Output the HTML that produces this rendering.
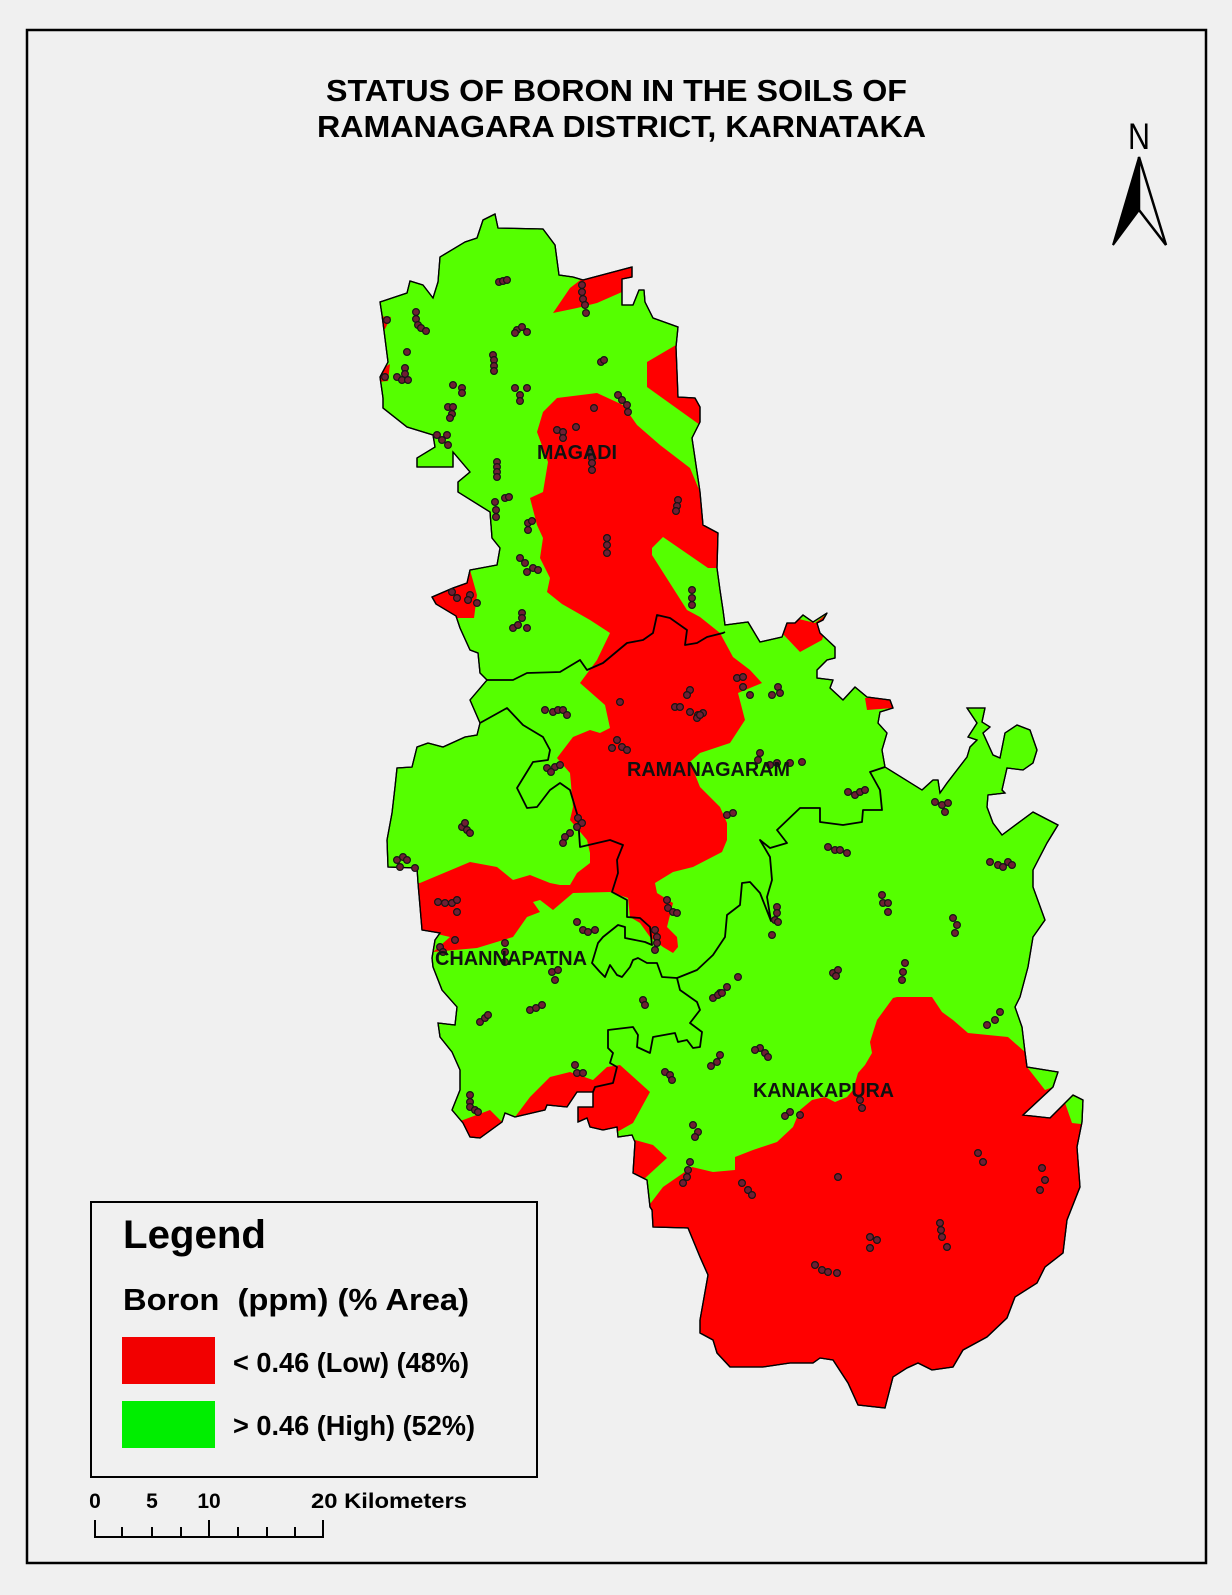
<!DOCTYPE html>
<html>
<head>
<meta charset="utf-8">
<style>
html,body{margin:0;padding:0;background:#f0f0f0;}
svg{display:block;}
text{font-family:"Liberation Sans",Arial,sans-serif;}
</style>
</head>
<body>
<svg width="1232" height="1595" viewBox="0 0 1232 1595" xmlns="http://www.w3.org/2000/svg">
<defs>
<clipPath id="dist">
<polygon id="outlinePts" points="483,220 495,214 498,228 543,229 555,245 559,275 573,277 583,280 632,267 632,277 622,279 622,305 633,305 639,290 644,290 645,302 653,318 678,327 676,347 678,397 695,398 700,407 700,422 692,438 700,492 703,525 718,533 717,568 720,590 723,610 725,625 748,622 760,642 782,637 787,623 795,623 803,615 813,622 827,613 823,620 817,623 820,633 835,647 835,658 827,660 817,670 817,678 833,680 830,688 843,700 855,687 867,697 890,700 893,708 880,712 878,723 887,733 882,750 885,767 922,790 933,780 938,780 940,793 947,783 967,757 970,747 977,740 968,737 977,723 967,708 985,708 982,722 990,727 983,733 993,755 1000,758 1005,733 1017,725 1030,730 1037,750 1033,763 1023,770 1007,768 1002,790 1005,793 988,795 987,807 993,823 1002,835 1033,812 1058,825 1047,843 1033,870 1033,887 1045,920 1033,937 1028,967 1020,997 1015,1007 1022,1027 1025,1052 1027,1067 1058,1072 1053,1087 1023,1115 1050,1118 1073,1095 1083,1100 1082,1122 1077,1147 1080,1187 1067,1220 1063,1253 1045,1267 1037,1283 1015,1297 1007,1318 987,1337 963,1350 953,1367 932,1370 918,1363 907,1368 893,1377 885,1408 858,1405 848,1383 833,1360 820,1358 813,1363 790,1363 763,1367 730,1367 717,1353 713,1340 700,1333 700,1320 708,1275 700,1257 688,1228 653,1227 652,1210 650,1207 647,1180 633,1173 635,1142 632,1135 618,1137 617,1127 603,1130 590,1127 587,1118 578,1122 578,1107 593,1107 593,1092 577,1092 567,1107 547,1105 545,1110 515,1117 505,1113 502,1122 480,1138 470,1137 463,1123 452,1110 460,1090 460,1070 452,1052 440,1037 438,1023 455,1025 457,1007 442,990 433,967 432,958 435,940 440,933 422,930 418,883 417,868 388,867 387,840 392,813 395,787 397,768 412,767 417,747 428,743 443,747 465,737 477,735 480,723 470,700 487,680 480,673 478,653 470,650 460,628 456,616 436,604 432,597 453,588 467,583 470,570 497,565 500,548 492,538 490,512 458,492 458,482 470,472 453,452 453,467 417,467 417,458 435,447 433,435 407,427 383,408 383,398 380,377 388,362 382,315 380,302 407,293 410,281 423,285 433,298 438,282 440,257 465,242 477,238"/>
</clipPath>
</defs>

<!-- frame -->
<rect x="27" y="30" width="1179" height="1533" fill="#f0f0f0" stroke="#000" stroke-width="2.5"/>

<!-- title -->
<text x="326" y="101" font-size="31" font-weight="bold" textLength="581" lengthAdjust="spacingAndGlyphs" fill="#000">STATUS OF BORON IN THE SOILS OF</text>
<text x="317" y="137" font-size="31" font-weight="bold" textLength="609" lengthAdjust="spacingAndGlyphs" fill="#000">RAMANAGARA DISTRICT, KARNATAKA</text>

<!-- north arrow -->
<text x="1128" y="149" font-size="37" textLength="22" lengthAdjust="spacingAndGlyphs" fill="#000">N</text>
<polygon points="1139,157 1113,245 1139,210" fill="#000" stroke="#000" stroke-width="2" stroke-linejoin="miter"/>
<polygon points="1139,157 1166,245 1139,210" fill="#f0f0f0" stroke="#000" stroke-width="2.5" stroke-linejoin="miter"/>

<!-- map -->
<polygon points="483,220 495,214 498,228 543,229 555,245 559,275 573,277 583,280 632,267 632,277 622,279 622,305 633,305 639,290 644,290 645,302 653,318 678,327 676,347 678,397 695,398 700,407 700,422 692,438 700,492 703,525 718,533 717,568 720,590 723,610 725,625 748,622 760,642 782,637 787,623 795,623 803,615 813,622 827,613 823,620 817,623 820,633 835,647 835,658 827,660 817,670 817,678 833,680 830,688 843,700 855,687 867,697 890,700 893,708 880,712 878,723 887,733 882,750 885,767 922,790 933,780 938,780 940,793 947,783 967,757 970,747 977,740 968,737 977,723 967,708 985,708 982,722 990,727 983,733 993,755 1000,758 1005,733 1017,725 1030,730 1037,750 1033,763 1023,770 1007,768 1002,790 1005,793 988,795 987,807 993,823 1002,835 1033,812 1058,825 1047,843 1033,870 1033,887 1045,920 1033,937 1028,967 1020,997 1015,1007 1022,1027 1025,1052 1027,1067 1058,1072 1053,1087 1023,1115 1050,1118 1073,1095 1083,1100 1082,1122 1077,1147 1080,1187 1067,1220 1063,1253 1045,1267 1037,1283 1015,1297 1007,1318 987,1337 963,1350 953,1367 932,1370 918,1363 907,1368 893,1377 885,1408 858,1405 848,1383 833,1360 820,1358 813,1363 790,1363 763,1367 730,1367 717,1353 713,1340 700,1333 700,1320 708,1275 700,1257 688,1228 653,1227 652,1210 650,1207 647,1180 633,1173 635,1142 632,1135 618,1137 617,1127 603,1130 590,1127 587,1118 578,1122 578,1107 593,1107 593,1092 577,1092 567,1107 547,1105 545,1110 515,1117 505,1113 502,1122 480,1138 470,1137 463,1123 452,1110 460,1090 460,1070 452,1052 440,1037 438,1023 455,1025 457,1007 442,990 433,967 432,958 435,940 440,933 422,930 418,883 417,868 388,867 387,840 392,813 395,787 397,768 412,767 417,747 428,743 443,747 465,737 477,735 480,723 470,700 487,680 480,673 478,653 470,650 460,628 456,616 436,604 432,597 453,588 467,583 470,570 497,565 500,548 492,538 490,512 458,492 458,482 470,472 453,452 453,467 417,467 417,458 435,447 433,435 407,427 383,408 383,398 380,377 388,362 382,315 380,302 407,293 410,281 423,285 433,298 438,282 440,257 465,242 477,238" fill="#55ff00"/>

<g clip-path="url(#dist)" fill="#ff0000">
<!-- north red patch -->
<polygon points="553,313 570,288 583,278 632,262 640,262 640,280 622,281 622,292 597,303 577,308"/>
<!-- right strip -->
<polygon points="647,362 676,345 712,340 712,432 700,425 647,387"/>
<!-- central big red -->
<polygon points="537,432 543,412 557,398 597,393 623,405 637,425 660,445 690,468 700,492 750,492 750,570 717,568 708,568 663,537 652,548 652,555 687,610 700,617 720,633 733,657 750,670 762,683 738,693 745,720 730,743 700,753 690,762 700,787 720,807 727,823 727,840 722,852 693,867 673,872 655,883 657,893 673,903 667,927 677,937 678,947 673,953 663,947 650,937 640,923 630,917 628,898 610,892 573,893 553,910 540,900 533,902 540,912 527,917 513,937 477,948 433,952 450,937 420,930 405,930 405,883 420,883 470,862 497,867 513,880 530,875 550,883 560,885 570,885 577,873 590,863 590,853 587,840 570,820 573,807 570,773 557,758 573,737 590,730 600,733 610,728 605,705 580,683 597,660 610,633 590,620 562,604 547,592 550,578 540,558 543,538 537,525 530,498 543,492 548,462"/>
<!-- left lobe red (Magadi SW) -->
<polygon points="425,597 453,588 467,583 470,570 477,595 474,618 455,618 430,605"/>
<!-- tiny left-edge bits -->
<polygon points="376,316 391,317 385,329 376,330"/>
<polygon points="376,372 390,364 388,381 376,382"/>
<!-- south edge red bits -->
<polygon points="455,1123 490,1110 502,1122 502,1145 455,1145"/>
<polygon points="515,1117 530,1097 550,1077 570,1072 593,1080 607,1067 620,1065 650,1092 633,1123 617,1132 600,1140 512,1140"/>
<polygon points="628,1138 653,1145 667,1158 643,1180 628,1180"/>
<!-- SE big red -->
<polygon points="640,1208 647,1208 663,1187 692,1167 713,1172 735,1170 735,1157 753,1150 777,1142 793,1127 800,1110 812,1100 825,1097 835,1102 847,1097 853,1090 858,1073 865,1065 872,1053 870,1042 877,1020 893,998 897,997 932,997 942,1012 953,1020 968,1033 1008,1037 1025,1052 1027,1067 1058,1072 1100,1060 1100,1420 640,1420"/>
<!-- top small red patches -->
<polygon points="782,625 795,618 815,623 832,610 822,640 800,652 782,633"/>
<polygon points="865,698 888,698 893,708 867,710"/>
</g>
<!-- small green bits inside SE red -->
<g clip-path="url(#dist)" fill="#55ff00">
<polygon points="1063,1097 1090,1095 1090,1125 1072,1123"/>
<polygon points="1025,1052 1058,1072 1053,1087 1045,1090 1027,1067"/>
</g>

<!-- district outline -->
<use href="#outlinePts" fill="none" stroke="#000" stroke-width="1.3"/>
<polygon points="483,220 495,214 498,228 543,229 555,245 559,275 573,277 583,280 632,267 632,277 622,279 622,305 633,305 639,290 644,290 645,302 653,318 678,327 676,347 678,397 695,398 700,407 700,422 692,438 700,492 703,525 718,533 717,568 720,590 723,610 725,625 748,622 760,642 782,637 787,623 795,623 803,615 813,622 827,613 823,620 817,623 820,633 835,647 835,658 827,660 817,670 817,678 833,680 830,688 843,700 855,687 867,697 890,700 893,708 880,712 878,723 887,733 882,750 885,767 922,790 933,780 938,780 940,793 947,783 967,757 970,747 977,740 968,737 977,723 967,708 985,708 982,722 990,727 983,733 993,755 1000,758 1005,733 1017,725 1030,730 1037,750 1033,763 1023,770 1007,768 1002,790 1005,793 988,795 987,807 993,823 1002,835 1033,812 1058,825 1047,843 1033,870 1033,887 1045,920 1033,937 1028,967 1020,997 1015,1007 1022,1027 1025,1052 1027,1067 1058,1072 1053,1087 1023,1115 1050,1118 1073,1095 1083,1100 1082,1122 1077,1147 1080,1187 1067,1220 1063,1253 1045,1267 1037,1283 1015,1297 1007,1318 987,1337 963,1350 953,1367 932,1370 918,1363 907,1368 893,1377 885,1408 858,1405 848,1383 833,1360 820,1358 813,1363 790,1363 763,1367 730,1367 717,1353 713,1340 700,1333 700,1320 708,1275 700,1257 688,1228 653,1227 652,1210 650,1207 647,1180 633,1173 635,1142 632,1135 618,1137 617,1127 603,1130 590,1127 587,1118 578,1122 578,1107 593,1107 593,1092 577,1092 567,1107 547,1105 545,1110 515,1117 505,1113 502,1122 480,1138 470,1137 463,1123 452,1110 460,1090 460,1070 452,1052 440,1037 438,1023 455,1025 457,1007 442,990 433,967 432,958 435,940 440,933 422,930 418,883 417,868 388,867 387,840 392,813 395,787 397,768 412,767 417,747 428,743 443,747 465,737 477,735 480,723 470,700 487,680 480,673 478,653 470,650 460,628 456,616 436,604 432,597 453,588 467,583 470,570 497,565 500,548 492,538 490,512 458,492 458,482 470,472 453,452 453,467 417,467 417,458 435,447 433,435 407,427 383,408 383,398 380,377 388,362 382,315 380,302 407,293 410,281 423,285 433,298 438,282 440,257 465,242 477,238" fill="none" stroke="#000" stroke-width="1.3" stroke-linejoin="round"/>

<!-- internal taluk boundaries -->
<g fill="none" stroke="#000" stroke-width="1.8" stroke-linejoin="round">
<polyline points="487,680 513,680 527,673 560,672 580,660 587,670 603,663 627,643 643,640 653,633 657,615 670,618 687,630 685,645 697,643 707,637 723,633 725,632"/>
<polyline points="480,723 507,708 523,725 543,737 550,750 548,760 533,762 517,788 527,808 537,807 550,790 560,783 570,790 578,817 580,847 610,840 623,845 617,860 618,873 612,892 627,900 627,917 640,918 650,927 652,945 645,942 625,938 625,927 618,925 603,937 598,943 592,963 600,972 605,977 610,965 617,975 622,977 630,967 633,960 638,958 647,963 657,963 662,977 677,978"/>
<polyline points="677,978 680,990 697,1002 700,1010 690,1023 702,1032 700,1047 693,1048 687,1040 678,1042 675,1033 653,1037 650,1053 637,1047 638,1035 633,1027 608,1030 608,1048 613,1053 610,1063 617,1067 613,1083 595,1087 593,1092"/>
<polyline points="885,767 870,772 880,790 882,810 863,810 862,822 843,825 820,822 820,808 800,808 777,830 787,843 770,848 760,840 770,857 772,880 767,897 771,921 760,893 750,882 742,883 740,905 727,915 725,937 713,955 697,970 677,978"/>
</g>

<!-- sample points -->
<g fill="#6e1f33" stroke="#151515" stroke-width="1.2">
<circle cx="499" cy="282" r="3.4"/><circle cx="503" cy="281" r="3.4"/><circle cx="507" cy="280" r="3.4"/>
<circle cx="582" cy="285" r="3.4"/><circle cx="582" cy="292" r="3.4"/><circle cx="583" cy="299" r="3.4"/><circle cx="585" cy="305" r="3.4"/><circle cx="586" cy="313" r="3.4"/>
<circle cx="416" cy="312" r="3.4"/><circle cx="416" cy="319" r="3.4"/><circle cx="418" cy="325" r="3.4"/><circle cx="421" cy="328" r="3.4"/><circle cx="426" cy="331" r="3.4"/>
<circle cx="387" cy="320" r="3.4"/>
<circle cx="517" cy="330" r="3.4"/><circle cx="522" cy="327" r="3.4"/><circle cx="527" cy="332" r="3.4"/><circle cx="515" cy="333" r="3.4"/>
<circle cx="493" cy="355" r="3.4"/><circle cx="494" cy="360" r="3.4"/><circle cx="494" cy="366" r="3.4"/><circle cx="494" cy="371" r="3.4"/>
<circle cx="601" cy="362" r="3.4"/><circle cx="604" cy="360" r="3.4"/>
<circle cx="407" cy="352" r="3.4"/>
<circle cx="405" cy="368" r="3.4"/><circle cx="405" cy="374" r="3.4"/><circle cx="397" cy="377" r="3.4"/><circle cx="402" cy="380" r="3.4"/><circle cx="408" cy="380" r="3.4"/>
<circle cx="385" cy="377" r="3.4"/>
<circle cx="453" cy="385" r="3.4"/><circle cx="462" cy="388" r="3.4"/><circle cx="462" cy="393" r="3.4"/>
<circle cx="515" cy="388" r="3.4"/><circle cx="527" cy="388" r="3.4"/><circle cx="520" cy="395" r="3.4"/><circle cx="520" cy="401" r="3.4"/>
<circle cx="448" cy="407" r="3.4"/><circle cx="453" cy="407" r="3.4"/><circle cx="452" cy="414" r="3.4"/><circle cx="450" cy="418" r="3.4"/>
<circle cx="618" cy="395" r="3.4"/><circle cx="622" cy="400" r="3.4"/><circle cx="627" cy="405" r="3.4"/><circle cx="628" cy="412" r="3.4"/>
<circle cx="594" cy="408" r="3.4"/>
<circle cx="557" cy="430" r="3.4"/><circle cx="563" cy="432" r="3.4"/><circle cx="563" cy="438" r="3.4"/><circle cx="576" cy="427" r="3.4"/>
<circle cx="437" cy="435" r="3.4"/><circle cx="447" cy="435" r="3.4"/><circle cx="442" cy="440" r="3.4"/><circle cx="448" cy="445" r="3.4"/>
<circle cx="590" cy="453" r="3.4"/><circle cx="592" cy="458" r="3.4"/><circle cx="592" cy="463" r="3.4"/><circle cx="592" cy="470" r="3.4"/>
<circle cx="497" cy="462" r="3.4"/><circle cx="497" cy="467" r="3.4"/><circle cx="497" cy="472" r="3.4"/><circle cx="497" cy="477" r="3.4"/>
<circle cx="495" cy="502" r="3.4"/><circle cx="505" cy="498" r="3.4"/><circle cx="509" cy="497" r="3.4"/><circle cx="496" cy="510" r="3.4"/><circle cx="496" cy="517" r="3.4"/>
<circle cx="678" cy="500" r="3.4"/><circle cx="677" cy="506" r="3.4"/><circle cx="676" cy="511" r="3.4"/>
<circle cx="528" cy="523" r="3.4"/><circle cx="532" cy="521" r="3.4"/><circle cx="528" cy="530" r="3.4"/>
<circle cx="607" cy="538" r="3.4"/><circle cx="607" cy="545" r="3.4"/><circle cx="607" cy="553" r="3.4"/>
<circle cx="520" cy="558" r="3.4"/><circle cx="525" cy="563" r="3.4"/><circle cx="527" cy="572" r="3.4"/><circle cx="533" cy="568" r="3.4"/><circle cx="538" cy="570" r="3.4"/>
<circle cx="692" cy="590" r="3.4"/><circle cx="692" cy="598" r="3.4"/><circle cx="692" cy="605" r="3.4"/>
<circle cx="452" cy="592" r="3.4"/><circle cx="457" cy="598" r="3.4"/><circle cx="470" cy="595" r="3.4"/><circle cx="468" cy="600" r="3.4"/><circle cx="477" cy="603" r="3.4"/>
<circle cx="522" cy="613" r="3.4"/><circle cx="522" cy="618" r="3.4"/><circle cx="513" cy="628" r="3.4"/><circle cx="518" cy="625" r="3.4"/><circle cx="527" cy="628" r="3.4"/>
<circle cx="545" cy="710" r="3.4"/><circle cx="553" cy="712" r="3.4"/><circle cx="558" cy="710" r="3.4"/><circle cx="563" cy="710" r="3.4"/><circle cx="567" cy="715" r="3.4"/>
<circle cx="620" cy="702" r="3.4"/>
<circle cx="690" cy="690" r="3.4"/><circle cx="687" cy="695" r="3.4"/><circle cx="675" cy="707" r="3.4"/><circle cx="680" cy="707" r="3.4"/><circle cx="690" cy="712" r="3.4"/><circle cx="698" cy="715" r="3.4"/><circle cx="703" cy="713" r="3.4"/><circle cx="697" cy="718" r="3.4"/>
<circle cx="617" cy="740" r="3.4"/><circle cx="612" cy="748" r="3.4"/><circle cx="622" cy="747" r="3.4"/><circle cx="627" cy="750" r="3.4"/>
<circle cx="547" cy="768" r="3.4"/><circle cx="555" cy="767" r="3.4"/><circle cx="560" cy="765" r="3.4"/><circle cx="551" cy="772" r="3.4"/>
<circle cx="578" cy="818" r="3.4"/><circle cx="582" cy="823" r="3.4"/><circle cx="577" cy="827" r="3.4"/><circle cx="570" cy="833" r="3.4"/><circle cx="565" cy="837" r="3.4"/><circle cx="563" cy="843" r="3.4"/>
<circle cx="462" cy="827" r="3.4"/><circle cx="467" cy="830" r="3.4"/><circle cx="470" cy="833" r="3.4"/><circle cx="465" cy="823" r="3.4"/>
<circle cx="397" cy="860" r="3.4"/><circle cx="403" cy="857" r="3.4"/><circle cx="407" cy="860" r="3.4"/><circle cx="400" cy="867" r="3.4"/><circle cx="415" cy="868" r="3.4"/>
<circle cx="438" cy="902" r="3.4"/><circle cx="445" cy="903" r="3.4"/><circle cx="452" cy="903" r="3.4"/><circle cx="457" cy="900" r="3.4"/><circle cx="457" cy="912" r="3.4"/>
<circle cx="455" cy="940" r="3.4"/>
<circle cx="440" cy="947" r="3.4"/><circle cx="443" cy="952" r="3.4"/>
<circle cx="505" cy="943" r="3.4"/><circle cx="505" cy="952" r="3.4"/><circle cx="505" cy="962" r="3.4"/>
<circle cx="577" cy="922" r="3.4"/><circle cx="583" cy="930" r="3.4"/><circle cx="588" cy="932" r="3.4"/><circle cx="595" cy="930" r="3.4"/>
<circle cx="667" cy="900" r="3.4"/><circle cx="668" cy="908" r="3.4"/><circle cx="673" cy="912" r="3.4"/><circle cx="677" cy="913" r="3.4"/>
<circle cx="655" cy="930" r="3.4"/><circle cx="657" cy="937" r="3.4"/><circle cx="657" cy="943" r="3.4"/><circle cx="655" cy="950" r="3.4"/>
<circle cx="552" cy="972" r="3.4"/><circle cx="558" cy="970" r="3.4"/><circle cx="555" cy="980" r="3.4"/>
<circle cx="727" cy="815" r="3.4"/><circle cx="733" cy="813" r="3.4"/>
<circle cx="737" cy="678" r="3.4"/><circle cx="743" cy="677" r="3.4"/><circle cx="743" cy="687" r="3.4"/><circle cx="750" cy="695" r="3.4"/>
<circle cx="772" cy="695" r="3.4"/><circle cx="778" cy="687" r="3.4"/><circle cx="780" cy="693" r="3.4"/>
<circle cx="700" cy="715" r="3.4"/>
<circle cx="760" cy="753" r="3.4"/><circle cx="758" cy="760" r="3.4"/><circle cx="770" cy="765" r="3.4"/><circle cx="777" cy="763" r="3.4"/><circle cx="790" cy="763" r="3.4"/><circle cx="802" cy="762" r="3.4"/>
<circle cx="848" cy="792" r="3.4"/><circle cx="855" cy="795" r="3.4"/><circle cx="860" cy="792" r="3.4"/><circle cx="865" cy="790" r="3.4"/>
<circle cx="935" cy="802" r="3.4"/><circle cx="942" cy="805" r="3.4"/><circle cx="948" cy="803" r="3.4"/><circle cx="945" cy="812" r="3.4"/>
<circle cx="828" cy="847" r="3.4"/><circle cx="835" cy="850" r="3.4"/><circle cx="840" cy="850" r="3.4"/><circle cx="847" cy="853" r="3.4"/>
<circle cx="990" cy="862" r="3.4"/><circle cx="998" cy="865" r="3.4"/><circle cx="1003" cy="867" r="3.4"/><circle cx="1008" cy="862" r="3.4"/><circle cx="1012" cy="865" r="3.4"/>
<circle cx="882" cy="895" r="3.4"/><circle cx="883" cy="903" r="3.4"/><circle cx="888" cy="903" r="3.4"/><circle cx="888" cy="912" r="3.4"/>
<circle cx="777" cy="907" r="3.4"/><circle cx="777" cy="913" r="3.4"/><circle cx="775" cy="920" r="3.4"/><circle cx="778" cy="922" r="3.4"/><circle cx="772" cy="935" r="3.4"/>
<circle cx="953" cy="918" r="3.4"/><circle cx="957" cy="925" r="3.4"/><circle cx="955" cy="933" r="3.4"/>
<circle cx="833" cy="973" r="3.4"/><circle cx="838" cy="970" r="3.4"/><circle cx="836" cy="976" r="3.4"/>
<circle cx="905" cy="963" r="3.4"/><circle cx="903" cy="972" r="3.4"/><circle cx="902" cy="980" r="3.4"/>
<circle cx="738" cy="977" r="3.4"/>
<circle cx="727" cy="987" r="3.4"/><circle cx="720" cy="993" r="3.4"/><circle cx="713" cy="998" r="3.4"/>
<circle cx="1000" cy="1012" r="3.4"/><circle cx="995" cy="1020" r="3.4"/><circle cx="987" cy="1025" r="3.4"/>
<circle cx="480" cy="1022" r="3.4"/><circle cx="485" cy="1018" r="3.4"/><circle cx="488" cy="1015" r="3.4"/>
<circle cx="530" cy="1010" r="3.4"/><circle cx="536" cy="1008" r="3.4"/><circle cx="542" cy="1005" r="3.4"/>
<circle cx="643" cy="1000" r="3.4"/><circle cx="645" cy="1005" r="3.4"/>
<circle cx="718" cy="995" r="3.4"/><circle cx="722" cy="993" r="3.4"/>
<circle cx="575" cy="1065" r="3.4"/><circle cx="577" cy="1073" r="3.4"/><circle cx="583" cy="1073" r="3.4"/>
<circle cx="665" cy="1072" r="3.4"/><circle cx="670" cy="1075" r="3.4"/><circle cx="672" cy="1080" r="3.4"/>
<circle cx="720" cy="1055" r="3.4"/><circle cx="717" cy="1062" r="3.4"/><circle cx="711" cy="1066" r="3.4"/>
<circle cx="470" cy="1095" r="3.4"/><circle cx="470" cy="1102" r="3.4"/><circle cx="470" cy="1107" r="3.4"/><circle cx="475" cy="1110" r="3.4"/><circle cx="478" cy="1112" r="3.4"/>
<circle cx="693" cy="1125" r="3.4"/><circle cx="698" cy="1132" r="3.4"/><circle cx="695" cy="1137" r="3.4"/>
<circle cx="690" cy="1162" r="3.4"/><circle cx="688" cy="1170" r="3.4"/><circle cx="687" cy="1177" r="3.4"/><circle cx="683" cy="1183" r="3.4"/>
<circle cx="742" cy="1183" r="3.4"/><circle cx="748" cy="1190" r="3.4"/><circle cx="752" cy="1195" r="3.4"/>
<circle cx="760" cy="1048" r="3.4"/><circle cx="765" cy="1053" r="3.4"/><circle cx="768" cy="1057" r="3.4"/><circle cx="755" cy="1050" r="3.4"/>
<circle cx="860" cy="1100" r="3.4"/><circle cx="862" cy="1108" r="3.4"/>
<circle cx="790" cy="1112" r="3.4"/><circle cx="800" cy="1115" r="3.4"/><circle cx="785" cy="1116" r="3.4"/>
<circle cx="838" cy="1177" r="3.4"/>
<circle cx="978" cy="1153" r="3.4"/><circle cx="983" cy="1162" r="3.4"/>
<circle cx="1042" cy="1168" r="3.4"/><circle cx="1045" cy="1180" r="3.4"/><circle cx="1040" cy="1190" r="3.4"/>
<circle cx="940" cy="1223" r="3.4"/><circle cx="941" cy="1230" r="3.4"/><circle cx="942" cy="1237" r="3.4"/><circle cx="947" cy="1247" r="3.4"/>
<circle cx="870" cy="1237" r="3.4"/><circle cx="877" cy="1240" r="3.4"/><circle cx="870" cy="1248" r="3.4"/>
<circle cx="815" cy="1265" r="3.4"/><circle cx="822" cy="1270" r="3.4"/><circle cx="828" cy="1272" r="3.4"/><circle cx="837" cy="1273" r="3.4"/>
</g>

<!-- taluk labels -->
<g font-weight="bold" font-size="20" fill="#111">
<text x="537" y="459" textLength="80" lengthAdjust="spacingAndGlyphs">MAGADI</text>
<text x="627" y="776" textLength="163" lengthAdjust="spacingAndGlyphs">RAMANAGARAM</text>
<text x="435" y="965" textLength="152" lengthAdjust="spacingAndGlyphs">CHANNAPATNA</text>
<text x="753" y="1097" textLength="141" lengthAdjust="spacingAndGlyphs">KANAKAPURA</text>
</g>

<!-- legend -->
<rect x="91" y="1202" width="446" height="275" fill="none" stroke="#000" stroke-width="2"/>
<text x="123" y="1248" font-size="40" font-weight="bold" textLength="143" lengthAdjust="spacingAndGlyphs" fill="#000">Legend</text>
<text x="123" y="1310" font-size="31" font-weight="bold" textLength="346" lengthAdjust="spacingAndGlyphs" fill="#000" xml:space="preserve">Boron  (ppm) (% Area)</text>
<rect x="122" y="1337" width="93" height="47" fill="#f20000"/>
<rect x="122" y="1401" width="93" height="47" fill="#00ee00"/>
<text x="233" y="1372" font-size="27.5" font-weight="bold" textLength="236" lengthAdjust="spacingAndGlyphs" fill="#000">&lt; 0.46 (Low) (48%)</text>
<text x="233" y="1435" font-size="27.5" font-weight="bold" textLength="242" lengthAdjust="spacingAndGlyphs" fill="#000">&gt; 0.46 (High) (52%)</text>

<!-- scale bar -->
<g font-size="21" font-weight="bold" fill="#000">
<text x="95" y="1508" text-anchor="middle">0</text>
<text x="152" y="1508" text-anchor="middle">5</text>
<text x="209" y="1508" text-anchor="middle">10</text>
<text x="311" y="1508" textLength="156" lengthAdjust="spacingAndGlyphs">20 Kilometers</text>
</g>
<g stroke="#000" stroke-width="2" fill="none">
<line x1="94" y1="1537" x2="324" y2="1537"/>
<line x1="95" y1="1520" x2="95" y2="1538"/>
<line x1="209" y1="1520" x2="209" y2="1538"/>
<line x1="323" y1="1520" x2="323" y2="1538"/>
<line x1="122" y1="1527" x2="122" y2="1538"/>
<line x1="152" y1="1527" x2="152" y2="1538"/>
<line x1="181" y1="1527" x2="181" y2="1538"/>
<line x1="238" y1="1527" x2="238" y2="1538"/>
<line x1="267" y1="1527" x2="267" y2="1538"/>
<line x1="295" y1="1527" x2="295" y2="1538"/>
</g>
</svg>
</body>
</html>
